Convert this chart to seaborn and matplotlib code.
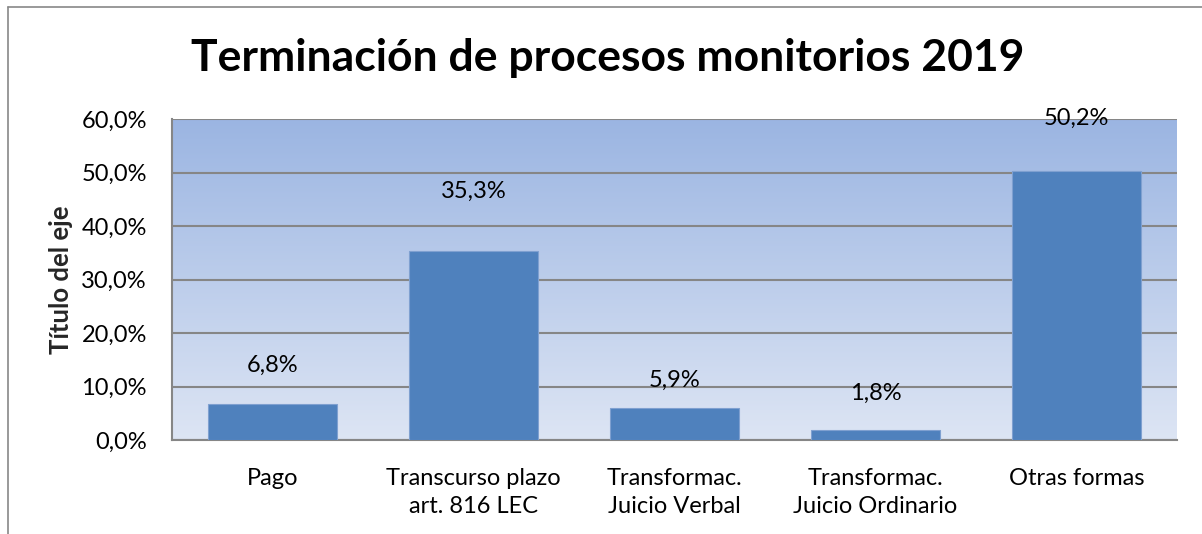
import matplotlib
matplotlib.use("Agg")
import matplotlib.pyplot as plt
import seaborn as sns
import numpy as np
import pandas as pd
from matplotlib.lines import Line2D
from matplotlib.colors import LinearSegmentedColormap

# ---- data ----
categories = ["Pago", "Transcurso plazo\nart. 816 LEC", "Transformac.\nJuicio Verbal",
              "Transformac.\nJuicio Ordinario", "Otras formas"]
values = [6.8, 35.3, 5.9, 1.8, 50.2]
value_labels = ["6,8%", "35,3%", "5,9%", "1,8%", "50,2%"]
y_ticks = [0, 10, 20, 30, 40, 50, 60]
y_tick_labels = ["0,0%", "10,0%", "20,0%", "30,0%", "40,0%", "50,0%", "60,0%"]
title = "Terminación de procesos monitorios 2019"
y_title = "Título del eje"

# styling: label offsets (in axis units) above each bar
label_offsets = [7.2, 11.1, 5.3, 7.0, 10.0]

sns.set_theme(style="white")
plt.rcParams['font.family'] = ['Lato', 'DejaVu Sans']

FS = 17

fig = plt.figure(figsize=(12.02, 5.34), dpi=100)
ax = fig.add_axes([172/1202, 94/534, (1177-172)/1202, (440-119)/534])

df = pd.DataFrame({"cat": categories, "val": values})
sns.barplot(data=df, x="cat", y="val", color="#4F81BD", saturation=1, width=0.645,
            edgecolor="#7FA0D0", linewidth=0.8, ax=ax, zorder=3)

ax.set_ylim(0, 60)
ax.set_xlim(-0.5, len(categories) - 0.5)

# gradient background
cmap = LinearSegmentedColormap.from_list("bg", ["#DDE5F4", "#9BB5E2"])
grad = np.linspace(0, 1, 256).reshape(-1, 1)
ax.imshow(grad, aspect="auto", cmap=cmap, origin="lower",
          extent=[-0.5, len(categories) - 0.5, 0, 60], zorder=0)

ax.set_yticks(y_ticks)
ax.set_yticklabels(y_tick_labels, fontsize=FS, color="#000000")
ax.tick_params(axis="y", length=0, pad=18)
ax.tick_params(axis="x", length=0, pad=20, labelsize=FS, colors="#000000")
ax.yaxis.grid(True, color="#868686", linewidth=1.5, zorder=1)
ax.set_axisbelow(True)
for t in ax.get_xticklabels():
    t.set_linespacing(1.42)

for s in ["top", "right"]:
    ax.spines[s].set_visible(False)
for s in ["left", "bottom"]:
    ax.spines[s].set_color("#868686")
    ax.spines[s].set_linewidth(1.5)

ax.set_xlabel("")
ax.set_ylabel(y_title, fontsize=18.5, fontweight="bold", labelpad=6)

for i, (v, lab, off) in enumerate(zip(values, value_labels, label_offsets)):
    ax.text(i, v + off, lab, ha="center", va="center", fontsize=FS, color="#000000", zorder=5)

fig.text(608/1202, 1 - 58/534, title, ha="center", va="center",
         fontsize=32, fontweight="bold", color="#000000")

# outer chart border (left and top)
fig.add_artist(Line2D([8/1202, 8/1202], [0, 1 - 7/534], transform=fig.transFigure,
                      color="#888888", linewidth=1.2))
fig.add_artist(Line2D([8/1202, 1], [1 - 7/534, 1 - 7/534], transform=fig.transFigure,
                      color="#888888", linewidth=1.2))

fig.savefig("out.png", dpi=100, facecolor="white")
